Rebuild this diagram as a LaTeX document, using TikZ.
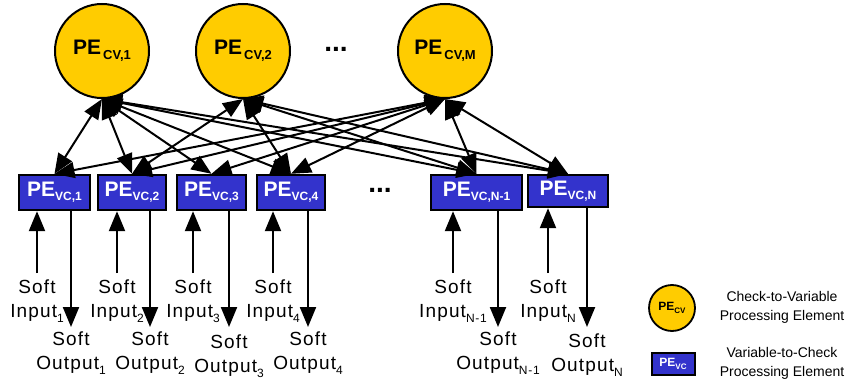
\documentclass[tikz,border=0pt]{standalone}
\usepackage{fontspec}
\setmainfont{Liberation Sans}
\newfontfamily\iofont{Liberation Sans}[LetterSpace=6.0]
\usetikzlibrary{arrows.meta}

\definecolor{cvgold}{HTML}{FFCC00}
\definecolor{vcblue}{HTML}{3333CC}

% labels of the processing elements
\newcommand{\cvlabel}[1]{{\fontsize{21}{21}\selectfont\bfseries PE\raisebox{-5pt}{\fontsize{13}{13}\selectfont\,#1}}}
\newcommand{\vclabel}[1]{{\fontsize{21}{21}\selectfont\bfseries PE\raisebox{-4pt}{\fontsize{12}{12}\selectfont #1}}}
\newcommand{\iosub}[1]{\raisebox{-5pt}{\fontsize{12}{12}\selectfont #1}}

\begin{document}
\begin{tikzpicture}[x=1pt, y=-1pt,
    >={Triangle[length=20pt, width=16pt]},
    cvnode/.style={circle, draw=black, line width=2pt, fill=cvgold, minimum size=94pt, inner sep=0pt},
    vcnode/.style={rectangle, draw=black, line width=2.4pt, fill=vcblue, text=white, minimum height=35pt, inner sep=0pt},
    link/.style={<->, line width=2pt},
    iolink/.style={->, line width=2.2pt},
    iolabel/.style={align=center, font=\iofont\fontsize{19}{24}\selectfont, inner sep=0pt},
    legendtext/.style={align=center, font=\fontsize{14}{19}\selectfont, inner sep=0pt}]
    \useasboundingbox (0,0) rectangle (848,385);

    % check-to-variable elements
    \node[cvnode] (cv1) at (102,51) {\cvlabel{CV,1}};
    \node[cvnode] (cv2) at (243,51) {\cvlabel{CV,2}};
    \node[cvnode] (cvm) at (445,51) {\cvlabel{CV,M}};
    \node[font=\fontsize{28}{28}\selectfont\bfseries] (dotscv) at (336,49) {...};

    % variable-to-check elements
    \node[vcnode, minimum width=71pt] (vc1) at (54.5,192.5) {\vclabel{VC,1}};
    \node[vcnode, minimum width=68pt] (vc2) at (132,192.5) {\vclabel{VC,2}};
    \node[vcnode, minimum width=69pt] (vc3) at (211.5,192.5) {\vclabel{VC,3}};
    \node[vcnode, minimum width=68pt] (vc4) at (291,192.5) {\vclabel{VC,4}};
    \node[font=\fontsize{28}{28}\selectfont\bfseries] (dotsvc) at (380,190) {...};
    \node[vcnode, minimum width=91pt] (vcn1) at (476.5,192.5) {\vclabel{VC,N-1}};
    \node[vcnode, minimum width=80pt, minimum height=32pt] (vcn) at (568,191) {\vclabel{VC,N}};

    % messages between the two sets
    \foreach \c/\v in {cv1/vc1, cv1/vc2, cv1/vc3, cv1/vc4, cv1/vcn1, cv1/vcn,
                       cv2/vc2, cv2/vc4, cv2/vcn1, cv2/vcn,
                       cvm/vc1, cvm/vc2, cvm/vc3, cvm/vc4, cvm/vcn1, cvm/vcn}
        \draw[link] (\c.south) -- (\v.north);

    % soft inputs and outputs
    \foreach \n/\xi/\xo/\s/\dy in {1/37/71/1/0, 2/117/150/2/0, 3/193/229/3/3,
                                   4/273/308/4/0, n1/453/498/N-1/0, n/548/587/N/2} {
        \coordinate (in\n) at (\xi,273);
        \coordinate (out\n) at (\xo,327);
        \draw[iolink] (in\n) -- (in\n |- vc\n.south);
        \draw[iolink] (out\n |- vc\n.south) -- (out\n);
        \node[iolabel] (lin\n) at (\xi,301) {Soft\\Input\iosub{\s}};
        \node[iolabel] (lout\n) at (\xo,353+\dy) {Soft\\Output\iosub{\s}};
    }

    % legend
    \node[cvnode, minimum size=46pt, line width=1.8pt] (legcv) at (672,308)
        {\fontsize{12}{12}\selectfont\bfseries PE\raisebox{-3pt}{\fontsize{8}{8}\selectfont CV}};
    \node[legendtext] (legcvtext) at (782,307) {Check-to-Variable\\Processing Element};
    \node[vcnode, minimum width=43pt, minimum height=22pt, line width=2pt] (legvc) at (673,364)
        {\fontsize{12}{12}\selectfont\bfseries PE\raisebox{-3pt}{\fontsize{8}{8}\selectfont VC}};
    \node[legendtext] (legvctext) at (782,363) {Variable-to-Check\\Processing Element};
\end{tikzpicture}
\end{document}
